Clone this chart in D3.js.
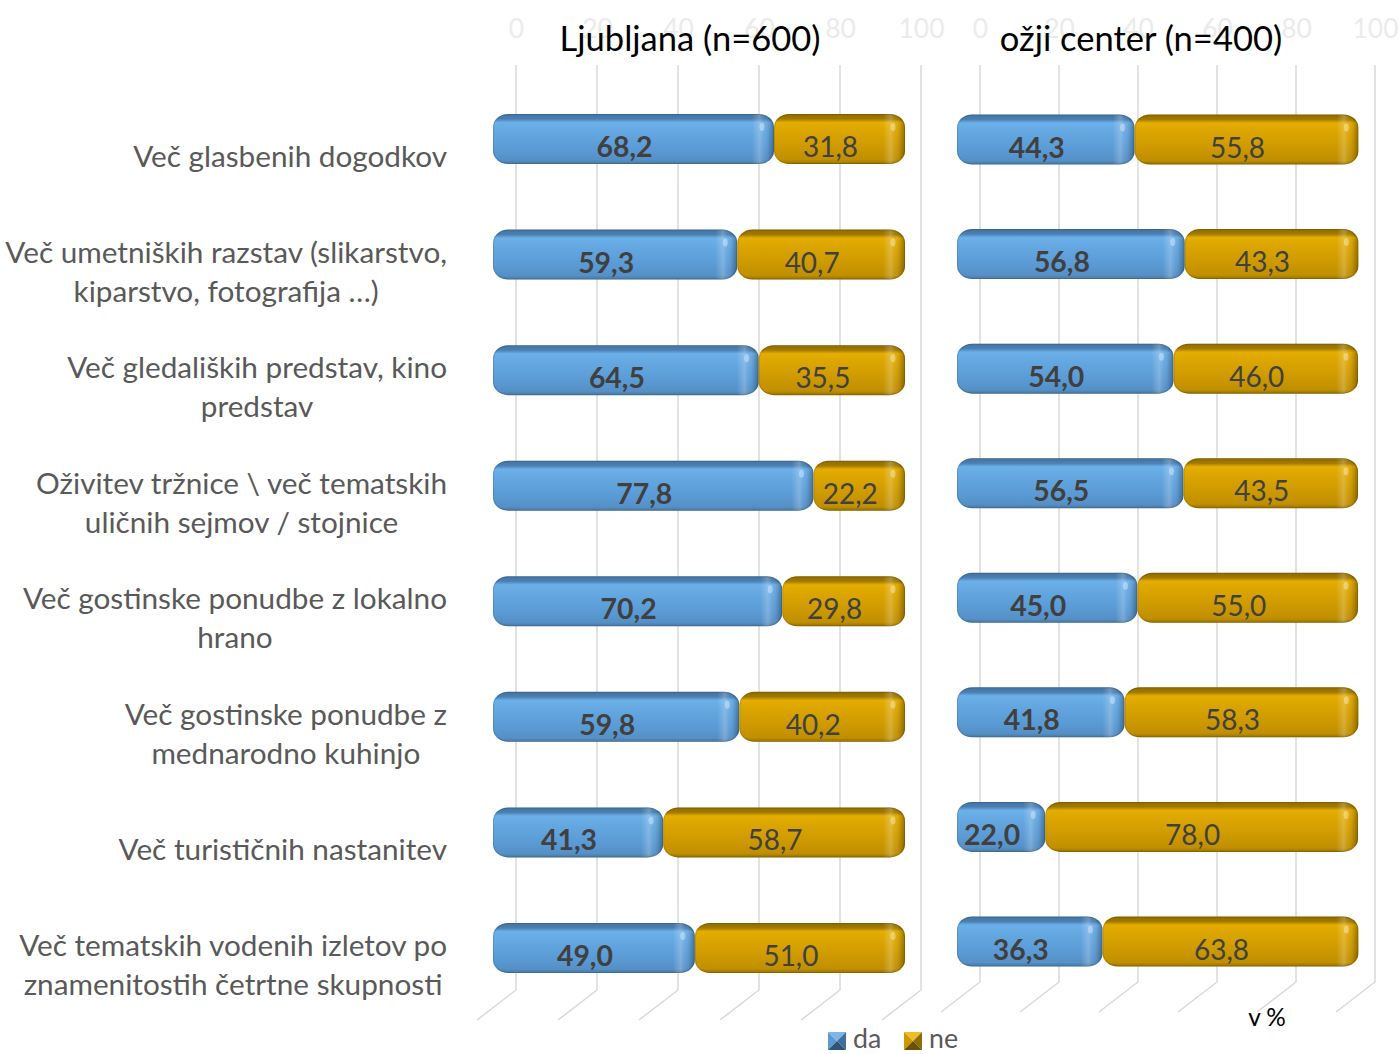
<!DOCTYPE html>
<html><head><meta charset="utf-8">
<script src="https://cdn.jsdelivr.net/npm/d3@7"></script>
<style>
html,body{margin:0;padding:0;background:#fff;}
svg{display:block;}
text{font-family:Lato,"Open Sans",sans-serif;}
</style></head>
<body>
<svg id="chart" width="1400" height="1054"></svg>
<script>
const categories = [
  ["Več glasbenih dogodkov"],
  ["Več umetniških razstav (slikarstvo,", "kiparstvo, fotografija …)"],
  ["Več gledaliških predstav, kino", "predstav"],
  ["Oživitev tržnice \\ več tematskih", "uličnih sejmov / stojnice"],
  ["Več gostinske ponudbe z lokalno", "hrano"],
  ["Več gostinske ponudbe z", "mednarodno kuhinjo"],
  ["Več turističnih nastanitev"],
  ["Več tematskih vodenih izletov po", "znamenitostih četrtne skupnosti"]
];
const seriesNames = ["da", "ne"];
const ljDa = [68.2, 59.3, 64.5, 77.8, 70.2, 59.8, 41.3, 49.0];
const ljNe = [31.8, 40.7, 35.5, 22.2, 29.8, 40.2, 58.7, 51.0];
const ocDa = [44.3, 56.8, 54.0, 56.5, 45.0, 41.8, 22.0, 36.3];
const ocNe = [55.8, 43.3, 46.0, 43.5, 55.0, 58.3, 78.0, 63.8];
const tickValues = [0, 20, 40, 60, 80, 100];
const panelTitles = ["Ljubljana (n=600)", "ožji center (n=400)"];
const unitLabel = "v %";

const fmt = v => v.toFixed(1).replace(".", ",");
const svg = d3.select("#chart");
const defs = svg.append("defs");

function vGrad(id, stops) {
  const g = defs.append("linearGradient").attr("id", id).attr("x1", 0).attr("y1", 0).attr("x2", 0).attr("y2", 1);
  stops.forEach(s => g.append("stop").attr("offset", s[0]).attr("stop-color", s[1]));
}
vGrad("gBlue", [[0, "#43739f"], [0.1, "#4a80b2"], [0.17, "#6cb0ea"], [0.4, "#63a6df"], [0.7, "#5b9bd5"], [0.92, "#5590c7"], [1, "#47789f"]]);
vGrad("gGold", [[0, "#8f6b00"], [0.1, "#a27a00"], [0.17, "#e4ad00"], [0.4, "#d9a300"], [0.7, "#cc9800"], [0.92, "#c08f00"], [1, "#946f00"]]);
const cap = defs.append("linearGradient").attr("id", "gCap").attr("x1", 0).attr("y1", 0).attr("x2", 1).attr("y2", 0);
[[0, "rgba(255,255,255,0)"], [0.35, "rgba(255,255,255,0.22)"], [0.55, "rgba(255,255,255,0.05)"], [0.8, "rgba(0,0,0,0.12)"], [1, "rgba(0,0,0,0.32)"]]
  .forEach(s => cap.append("stop").attr("offset", s[0]).attr("stop-color", s[1]));

const panels = [
  { da: ljDa, ne: ljNe, barRange: [493, 905], gridRange: [516, 921], yRange: [139, 948], gridTop: 65, gridBottom: 990, title: panelTitles[0], titleX: 690 },
  { da: ocDa, ne: ocNe, barRange: [957, 1358], gridRange: [980, 1375], yRange: [139.5, 941.5], gridTop: 65, gridBottom: 982, title: panelTitles[1], titleX: 1141 }
];
const depth = { dx: -39, dy: 30 };
const barH = 50;

function fitSize(str, target, weight) {
  const t = svg.append("text").attr("font-size", 100).attr("font-weight", weight || "normal").text(str);
  const w = t.node().getComputedTextLength();
  t.remove();
  return 100 * target / w;
}
const catSize = fitSize("Več glasbenih dogodkov", 314);
const titleSize = fitSize("Ljubljana (n=600)", 261);
const valBoldSize = fitSize("68,2", 56, "bold");
const valSize = fitSize("31,8", 55);
const tickSize = fitSize("100", 46);

let clipN = 0;
panels.forEach((p, pi) => {
  const idx = d3.range(categories.length);
  const xGrid = d3.scaleLinear().domain([0, 100]).range(p.gridRange);
  const xBar = d3.scaleLinear().domain([0, 100]).range(p.barRange);
  const y = d3.scalePoint().domain(idx).range(p.yRange);
  const g = svg.append("g");

  const gl = g.append("g");
  tickValues.forEach(t => {
    const x = xGrid(t);
    gl.append("path")
      .attr("d", `M${x},${p.gridTop}V${p.gridBottom}l${depth.dx},${depth.dy}`)
      .attr("fill", "none").attr("stroke", "#d9d9d9").attr("stroke-width", 1.5);
  });
  const axis = d3.axisTop(xGrid).tickValues(tickValues).tickSize(0).tickPadding(0);
  const ax = g.append("g").attr("transform", "translate(0,38)").call(axis);
  ax.select(".domain").remove();
  ax.selectAll("text").attr("font-size", tickSize).attr("fill", "#ebebeb").attr("font-family", "Lato, sans-serif");

  g.append("text").attr("x", p.titleX).attr("y", 51).attr("text-anchor", "middle")
    .attr("font-size", titleSize).attr("fill", "#000").text(p.title);

  idx.forEach(i => {
    const segs = [
      { v: p.da[i], start: 0, fill: "url(#gBlue)", bold: true },
      { v: p.ne[i], start: p.da[i], fill: "url(#gGold)", bold: false }
    ];
    const cy = y(i);
    segs.forEach(s => {
      const x0 = xBar(s.start), x1 = xBar(s.start + s.v);
      const top = cy - barH / 2;
      const cid = "clip" + (clipN++);
      defs.append("clipPath").attr("id", cid).append("rect")
        .attr("x", x0).attr("y", top).attr("width", x1 - x0).attr("height", barH).attr("rx", 15).attr("ry", 13);
      const sg = g.append("g");
      sg.append("rect").attr("x", x0).attr("y", top).attr("width", x1 - x0).attr("height", barH)
        .attr("rx", 15).attr("ry", 13).attr("fill", s.fill);
      sg.append("rect").attr("clip-path", `url(#${cid})`)
        .attr("x", x1 - 22).attr("y", top).attr("width", 22).attr("height", barH).attr("fill", "url(#gCap)");
      sg.append("ellipse").attr("clip-path", `url(#${cid})`)
        .attr("cx", x1 - 12).attr("cy", top + 13).attr("rx", 2.5).attr("ry", 4)
        .attr("fill", "rgba(255,255,255,0.35)");
      sg.append("rect").attr("x", x0 + 0.5).attr("y", top + 0.5).attr("width", x1 - x0 - 1).attr("height", barH - 1)
        .attr("rx", 15).attr("ry", 13).attr("fill", "none").attr("stroke", "rgba(0,0,0,0.12)").attr("stroke-width", 1);
      g.append("text").attr("x", (x0 + x1 - 18) / 2).attr("y", cy + 7).attr("dominant-baseline", "central")
        .attr("text-anchor", "middle").attr("fill", "#404040")
        .attr("font-weight", s.bold ? "bold" : "normal")
        .attr("font-size", s.bold ? valBoldSize : valSize)
        .text(fmt(s.v));
    });
  });

  if (pi === 0) {
    const lh = 39;
    idx.forEach(i => {
      const lines = categories[i];
      const t = g.append("text").attr("font-size", catSize).attr("fill", "#595959").attr("text-anchor", "middle");
      const cy = y(i) + 16;
      lines.forEach((ln, k) => {
        t.append("tspan").attr("y", cy + (k - (lines.length - 1) / 2) * lh).attr("dominant-baseline", "central").text(ln);
      });
      let maxW = 0;
      t.selectAll("tspan").each(function () { maxW = Math.max(maxW, this.getComputedTextLength()); });
      const cx = 447 - maxW / 2;
      t.selectAll("tspan").attr("x", cx);
    });
  }
});

svg.append("text").attr("x", 1267).attr("y", 1016).attr("text-anchor", "middle").attr("dominant-baseline", "central")
  .attr("font-size", catSize * 0.82).attr("fill", "#000").text(unitLabel);

const legendColors = [["#7fb6e6", "#5b9bd5", "#3f6f9c", "#2f5477"], ["#f0bd2a", "#cc9a00", "#8f6b00", "#6b5000"]];
const legX = [828, 904];
seriesNames.forEach((n, i) => {
  const x = legX[i], y0 = 1032, s = 18;
  const c = legendColors[i];
  const lg = svg.append("g");
  lg.append("path").attr("d", `M${x},${y0}L${x + s},${y0}L${x + s / 2},${y0 + s / 2}Z`).attr("fill", c[0]);
  lg.append("path").attr("d", `M${x},${y0}L${x + s / 2},${y0 + s / 2}L${x},${y0 + s}Z`).attr("fill", c[1]);
  lg.append("path").attr("d", `M${x + s},${y0}L${x + s},${y0 + s}L${x + s / 2},${y0 + s / 2}Z`).attr("fill", c[2]);
  lg.append("path").attr("d", `M${x},${y0 + s}L${x + s},${y0 + s}L${x + s / 2},${y0 + s / 2}Z`).attr("fill", c[3]);
  svg.append("text").attr("x", x + 25).attr("y", 1038).attr("dominant-baseline", "central")
    .attr("font-size", catSize * 0.9).attr("fill", "#595959").text(n);
});
</script>
</body></html>
